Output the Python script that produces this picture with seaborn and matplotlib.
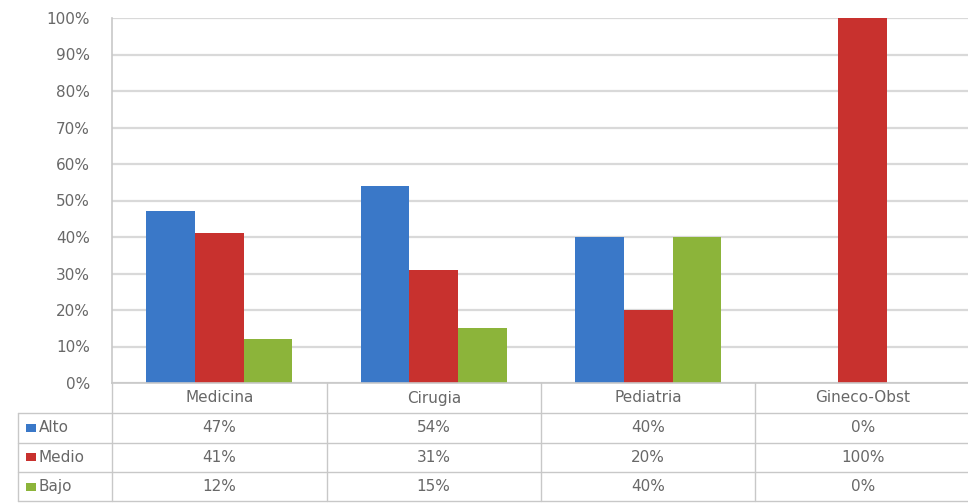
import matplotlib
matplotlib.use("Agg")
import matplotlib.pyplot as plt
import matplotlib.transforms as mtransforms
from matplotlib.lines import Line2D
from matplotlib.patches import Rectangle
import seaborn as sns
import pandas as pd

# ---- data ----
categories = ["Medicina", "Cirugia", "Pediatria", "Gineco-Obst"]
levels = ["Alto", "Medio", "Bajo"]
alto = [47, 54, 40, 0]
medio = [41, 31, 20, 100]
bajo = [12, 15, 40, 0]
y_ticks = [0, 10, 20, 30, 40, 50, 60, 70, 80, 90, 100]
colors = ["#3a78c8", "#c8312e", "#8cb43a"]

series = {"Alto": alto, "Medio": medio, "Bajo": bajo}
rows = []
for lvl in levels:
    for cat, v in zip(categories, series[lvl]):
        rows.append({"Departamento": cat, "Nivel": lvl, "Valor": v})
df = pd.DataFrame(rows)

sns.set_style("white")
plt.rcParams["font.family"] = ["DejaVu Sans"]

W, H = 968, 504
fig = plt.figure(figsize=(W / 100, H / 100), dpi=100)

def fx(px):
    return px / W

def fy(py):
    return 1 - py / H

FS = 11
ax_left, ax_right, ax_top, ax_bot = 112, 970, 18, 383
ax = fig.add_axes([fx(ax_left), fy(ax_bot), fx(ax_right - ax_left), (ax_bot - ax_top) / H])

sns.barplot(data=df, x="Departamento", y="Valor", hue="Nivel", hue_order=levels,
            palette=colors, width=0.68, saturation=1, ax=ax, legend=False,
            linewidth=0, errorbar=None)

text_color = "#686868"
grid_color = "#d9d9d9"
ax.set_xlim(-0.5, len(categories) - 0.5)
ax.set_ylim(0, 100)
ax.set_yticks(y_ticks)
ax.set_yticklabels([f"{t}%" for t in y_ticks], color=text_color, fontsize=FS)
ax.tick_params(axis="y", length=0, pad=16)
ax.set_xticks([])
ax.set_xlabel("")
ax.set_ylabel("")
ax.yaxis.grid(True, color=grid_color, linewidth=1.6)
ax.set_axisbelow(True)
for s in ["top", "right"]:
    ax.spines[s].set_visible(False)
for s in ["left", "bottom"]:
    ax.spines[s].set_color("#c8c8c8")
    ax.spines[s].set_linewidth(1.2)

# ---- data table ----
line_color = "#c8c8c8"
tr = mtransforms.blended_transform_factory(ax.transData, fig.transFigure)
row_edges = [383, 413, 442.5, 472, 501]
tbl_left = 18

for ry in row_edges[1:]:
    fig.add_artist(Line2D([fx(tbl_left), fx(ax_right)], [fy(ry), fy(ry)],
                          color=line_color, linewidth=1.0, transform=fig.transFigure))
fig.add_artist(Line2D([fx(tbl_left), fx(tbl_left)], [fy(row_edges[1]), fy(row_edges[-1])],
                      color=line_color, linewidth=1.0, transform=fig.transFigure))
for i in range(len(categories) + 1):
    xb = i - 0.5
    fig.add_artist(Line2D([xb, xb], [fy(row_edges[0]), fy(row_edges[-1])],
                          color=line_color, linewidth=1.0, transform=tr))

def row_mid(r):
    return fy((row_edges[r] + row_edges[r + 1]) / 2)

for i, cat in enumerate(categories):
    fig.text(i, row_mid(0), cat, transform=tr, ha="center", va="center",
             color=text_color, fontsize=FS)

for r, lvl in enumerate(levels, start=1):
    ym = (row_edges[r] + row_edges[r + 1]) / 2
    fig.add_artist(Rectangle((fx(26), fy(ym + 4)), fx(10), 8 / H,
                             facecolor=colors[r - 1], edgecolor="none",
                             transform=fig.transFigure))
    fig.text(fx(39), fy(ym), lvl, ha="left", va="center", color=text_color, fontsize=FS)
    for i, v in enumerate(series[lvl]):
        fig.text(i, fy(ym), f"{v}%", transform=tr, ha="center", va="center",
                 color=text_color, fontsize=FS)

fig.savefig("out.png", dpi=100)
